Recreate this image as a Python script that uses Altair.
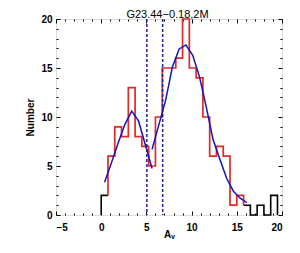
import altair as alt
import pandas as pd

# ---------------- data ----------------
bin_left = [0.0, 0.75, 1.5, 2.25, 3.0, 3.75, 4.5, 5.25, 6.0, 6.75, 7.5, 8.25, 9.0,
            9.75, 10.5, 11.25, 12.0, 12.75, 13.5, 14.25, 15.0, 15.75, 16.5, 17.25,
            18.0, 18.75]
bin_width = 0.75
counts = [2, 6, 9, 8, 13, 8, 7, 5, 10, 15, 15, 16, 20, 15, 14, 10, 6, 7, 6, 1, 2,
          1, 0, 1, 0, 2]
red_first, red_last = 1, 20  # bins drawn in red, the rest in black

fit1_x = [0.375, 1.125, 1.875, 2.625, 3.375, 4.125, 4.875, 5.625]
fit1_y = [3.35, 5.3, 7.35, 9.25, 10.6, 9.6, 7.2, 4.75]
fit2_x = [5.625, 6.375, 7.125, 7.875, 8.625, 9.375, 10.125, 10.875, 11.625,
          12.375, 13.125, 13.875, 14.625, 15.375, 16.125]
fit2_y = [6.7, 9.2, 11.7, 15.1, 16.95, 17.35, 16.3, 14.1, 11.0, 7.7, 5.7, 3.75,
          2.43, 1.71, 1.25]
cuts = [5.05, 6.8]

x_major = [-5, 0, 5, 10, 15, 20]
y_major = [0, 5, 10, 15, 20]
x_minor = [v for v in range(-5, 21) if v % 5 != 0]
y_minor = [v for v in range(0, 21) if v % 5 != 0]

title_text = "G23.44\u22120.18,2M"
x_title = "A\u1d65"
y_title = "Number"

W, H = 226, 196
FONT = "Liberation Sans"


def step_path(first, last, rise=True, fall=True, seg="s"):
    xs, ys = [], []
    if rise:
        prev = counts[first - 1] if first > 0 else 0
        xs.append(bin_left[first]); ys.append(prev)
    for i in range(first, last + 1):
        xs += [bin_left[i], bin_left[i] + bin_width]
        ys += [counts[i], counts[i]]
    if fall:
        nxt = counts[last + 1] if last + 1 < len(counts) else 0
        xs.append(bin_left[last] + bin_width); ys.append(nxt)
    return pd.DataFrame({"x": xs, "y": ys, "o": list(range(len(xs))),
                         "seg": [seg] * len(xs)})


black_df = pd.concat([
    step_path(0, red_first - 1, rise=True, fall=False, seg="left"),
    step_path(red_last + 1, len(counts) - 1, rise=False, fall=True, seg="right"),
], ignore_index=True)
red_df = step_path(red_first, red_last, seg="red")
fit_df = pd.DataFrame({
    "x": fit1_x + fit2_x,
    "y": fit1_y + fit2_y,
    "seg": ["a"] * len(fit1_x) + ["b"] * len(fit2_x),
})
cut_df = pd.DataFrame({"x": cuts})

xs = alt.Scale(domain=[-5, 20], nice=False, zero=False)
ys = alt.Scale(domain=[0, 20], nice=False)


def tick_axis(orient, offset, values, size, **kw):
    base = dict(orient=orient, offset=offset, values=values, tickSize=size,
                labels=False, domain=False, grid=False, title=None,
                tickColor="black", tickWidth=1)
    base.update(kw)
    return alt.Axis(**base)


x_label_axis = alt.Axis(orient="bottom", values=x_major, ticks=False, tickSize=0,
                        domain=False, grid=False, labelFont=FONT, labelFontSize=10,
                        labelFontWeight="bold", labelColor="black", labelPadding=7,
                        title=x_title, titleFont=FONT, titleFontSize=10,
                        titleFontWeight="bold", titleColor="black",
                        titleX=W / 2, titleY=14, titleAlign="center",
                        titleBaseline="top")
y_label_axis = alt.Axis(orient="left", values=y_major, ticks=False, tickSize=0,
                        domain=False, grid=False, labelFont=FONT, labelFontSize=10,
                        labelFontWeight="bold", labelColor="black", labelPadding=4,
                        title=y_title, titleFont=FONT, titleFontSize=10,
                        titleFontWeight="bold", titleColor="black",
                        titleX=-26, titleY=H / 2, titleAngle=270,
                        titleAlign="center", titleBaseline="middle")
# top edge: inward major ticks, carrying the chart's title
top_axis = tick_axis("bottom", -H, x_major, 4, title=title_text, titleFont=FONT,
                     titleFontSize=11, titleFontWeight="normal",
                     titleColor="black", titleX=W / 2 - 2, titleY=-2,
                     titleAlign="center", titleBaseline="alphabetic")

black = alt.Chart(black_df).mark_line(color="black", strokeWidth=1.6).encode(
    x=alt.X("x:Q", scale=xs, axis=x_label_axis),
    y=alt.Y("y:Q", scale=ys, axis=y_label_axis),
    detail="seg:N",
    order="o:Q",
)

red = alt.Chart(red_df).mark_line(color="#e22a22", strokeWidth=1.7).encode(
    x=alt.X("x:Q", scale=xs, axis=tick_axis("top", -H, x_major, 4)),
    y=alt.Y("y:Q", scale=ys, axis=tick_axis("right", -W, y_major, 4)),
    order="o:Q",
)

fits = alt.Chart(fit_df).mark_line(color="#1414c4", strokeWidth=1.5).encode(
    x=alt.X("x:Q", scale=xs, axis=tick_axis("top", -H, x_minor, 2)),
    y=alt.Y("y:Q", scale=ys, axis=tick_axis("right", -W, y_minor, 2)),
    detail="seg:N",
)

cut_rules = alt.Chart(cut_df).mark_rule(color="#1f1f9e", strokeWidth=1.5,
                                        strokeDash=[3, 2]).encode(
    x=alt.X("x:Q", scale=xs, axis=top_axis),
)

inv1 = alt.Chart(fit_df).mark_point(opacity=0).encode(
    x=alt.X("x:Q", scale=xs, axis=tick_axis("bottom", -H, x_minor, 2)),
    y=alt.Y("y:Q", scale=ys, axis=tick_axis("left", -W, y_major, 4)),
)

inv2 = alt.Chart(fit_df).mark_point(opacity=0).encode(
    x=alt.X("x:Q", scale=xs, axis=None),
    y=alt.Y("y:Q", scale=ys, axis=tick_axis("left", -W, y_minor, 2)),
)

chart = (
    alt.layer(black, red, fits, cut_rules, inv1, inv2)
    .resolve_axis(x="independent", y="independent")
    .properties(
        width=W,
        height=H,
        padding={"left": 48, "top": 11, "right": 10, "bottom": 30},
        autosize=alt.AutoSizeParams(type="none"),
    )
    .configure_view(stroke="black", strokeWidth=1.5)
    .configure(background="white")
)

chart.save("out.html", embed_options={"renderer": "svg", "actions": False})
